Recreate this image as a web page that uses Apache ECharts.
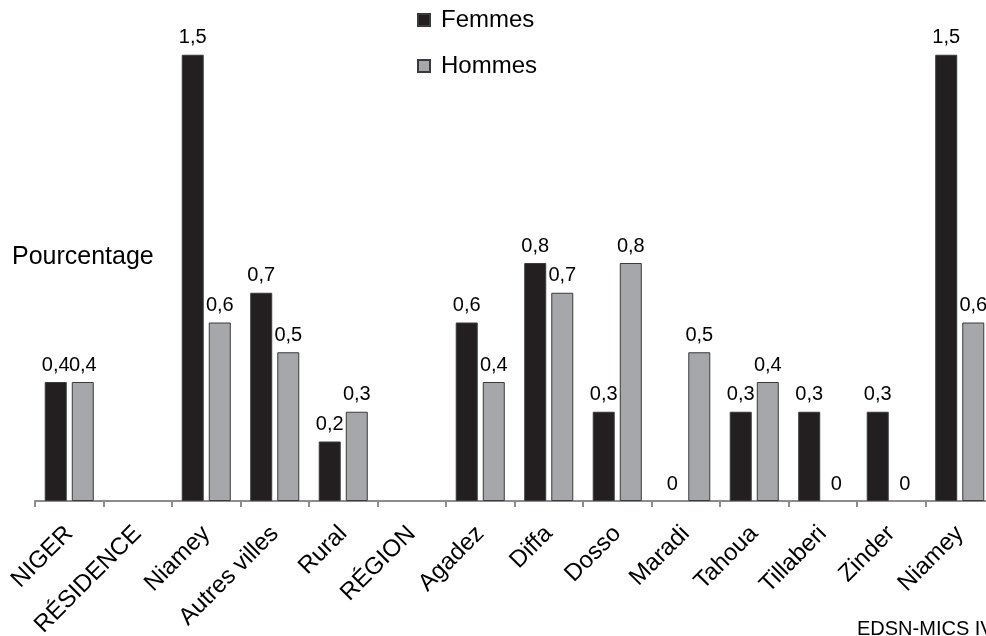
<!DOCTYPE html>
<html>
<head>
<meta charset="utf-8">
<script src="https://cdn.jsdelivr.net/npm/echarts@6/dist/echarts.min.js"></script>
<style>
  html, body { margin: 0; padding: 0; background: #fff; }
  #chart { width: 986px; height: 636px; }
</style>
</head>
<body>
<div id="chart"></div>
<script>
// categories along the x axis
const categories = ["NIGER", "RÉSIDENCE", "Niamey", "Autres villes", "Rural", "RÉGION",
  "Agadez", "Diffa", "Dosso", "Maradi", "Tahoua", "Tillaberi", "Zinder", "Niamey"];
// values (%), null = group header without bars
const femmes = [0.4, null, 1.5, 0.7, 0.2, null, 0.6, 0.8, 0.3, 0, 0.3, 0.3, 0.3, 1.5];
const hommes = [0.4, null, 0.6, 0.5, 0.3, null, 0.4, 0.7, 0.8, 0.5, 0.4, 0, 0, 0.6];

const font = "'Liberation Sans', Arial, sans-serif";
const fmt = p => (p.value == null ? "" : String(p.value).replace(".", ","));
// a zero bar keeps its label but draws no outline
const toData = arr => arr.map(v => (v === 0 ? { value: 0, itemStyle: { borderWidth: 0 } } : v));

const labelStyle = {
  show: true, position: "top", distance: 7, formatter: fmt,
  fontFamily: font, fontSize: 20, color: "#000"
};

const chart = echarts.init(document.getElementById("chart"));
chart.setOption({
  animation: false,
  backgroundColor: "#fff",
  grid: { left: 35, width: 959, top: 25, bottom: 135, outerBoundsMode: "none" },
  legend: {
    data: ["Femmes", "Hommes"],
    orient: "vertical",
    left: 417,
    top: 8,
    padding: 0,
    itemWidth: 12,
    itemHeight: 12,
    itemGap: 22,
    icon: "rect",
    textStyle: { fontFamily: font, fontSize: 24, color: "#000", padding: [0, 0, 0, 6] }
  },
  graphic: [
    {
      type: "text",
      left: 12,
      top: 245,
      style: { text: "Pourcentage", font: "25px " + font, fill: "#000" }
    },
    {
      type: "text",
      left: 857,
      top: 619,
      style: { text: "EDSN-MICS IV", font: "20px " + font, fill: "#000" }
    }
  ],
  xAxis: {
    type: "category",
    data: categories,
    axisLine: { lineStyle: { color: "#8c8c8c", width: 2 } },
    axisTick: { show: true, length: 6, lineStyle: { color: "#8c8c8c", width: 2 } },
    axisLabel: {
      rotate: 45,
      interval: 0,
      margin: 29,
      fontFamily: font,
      fontSize: 24,
      color: "#000"
    }
  },
  yAxis: {
    type: "value",
    min: 0,
    max: 1.6,
    show: false,
    splitLine: { show: false }
  },
  series: [
    {
      name: "Femmes",
      type: "bar",
      data: toData(femmes),
      barWidth: 22,
      barGap: "23%",
      itemStyle: { color: "#231f20", borderColor: "#3a3a3a", borderWidth: 1 },
      label: labelStyle
    },
    {
      name: "Hommes",
      type: "bar",
      data: toData(hommes),
      barWidth: 22,
      itemStyle: { color: "#a6a7ab", borderColor: "#3a3a3a", borderWidth: 1 },
      label: labelStyle
    }
  ]
});
</script>
</body>
</html>
